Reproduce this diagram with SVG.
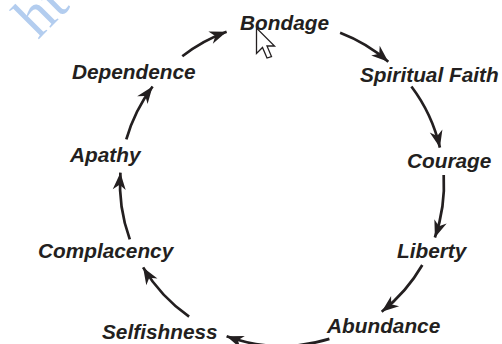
<svg xmlns="http://www.w3.org/2000/svg" width="502" height="344" viewBox="0 0 502 344">
<style>
  .lbl { font-family: "Liberation Sans", Arial, Helvetica, sans-serif; font-size: 20.8px; font-weight: bold; font-style: italic; fill: #231f20; }
  .arc { fill: none; stroke: #231f20; stroke-width: 2.7; marker-end: url(#ah); }
  .wm { font-family: "Liberation Serif", "Times New Roman", serif; font-size: 60px; fill: #b3cdef; }
</style>
<defs>
  <marker id="ah" markerUnits="userSpaceOnUse" viewBox="-18 -8 20 16" markerWidth="20" markerHeight="16" refX="0" refY="0" orient="auto">
    <path d="M0,0 L-17,-6.5 L-12,0 L-17,6.5 Z" fill="#231f20"/>
  </marker>
</defs>
<rect width="502" height="344" fill="#ffffff"/>
<g id="watermark">
  <text class="wm" transform="translate(38,40) rotate(-45)">ht</text>
</g>
<g id="connectors">
  <path class="arc" d="M182.3,56.3 A162,162 0 0 1 226.6,31.8"/>
  <path class="arc" d="M340.1,32.8 A162,162 0 0 1 388.3,61.7"/>
  <path class="arc" d="M411.4,86.5 A162,162 0 0 1 439.9,147.6"/>
  <path class="arc" d="M443.7,175 A162,162 0 0 1 434.9,237.5"/>
  <path class="arc" d="M422.3,265 A162,162 0 0 1 381.7,311.7"/>
  <path class="arc" d="M329.4,338.9 A162,162 0 0 1 226.6,336.2"/>
  <path class="arc" d="M189.1,316.7 A162,162 0 0 1 143.1,267.4"/>
  <path class="arc" d="M129.8,239.4 A162,162 0 0 1 120.4,172.7"/>
  <path class="arc" d="M126.3,139.4 A162,162 0 0 1 152.6,86.5"/>
</g>
<g id="bondage"><text class="lbl" x="240" y="30">Bondage</text></g>
<g id="spiritual-faith"><text class="lbl" x="360" y="82">Spiritual Faith</text></g>
<g id="courage"><text class="lbl" x="407" y="168">Courage</text></g>
<g id="liberty"><text class="lbl" x="397" y="258">Liberty</text></g>
<g id="abundance"><text class="lbl" x="327" y="333">Abundance</text></g>
<g id="selfishness"><text class="lbl" x="102" y="339">Selfishness</text></g>
<g id="complacency"><text class="lbl" x="38" y="258">Complacency</text></g>
<g id="apathy"><text class="lbl" x="70" y="162">Apathy</text></g>
<g id="dependence"><text class="lbl" x="72" y="79">Dependence</text></g>
<g id="cursor">
  <path d="M0,0 L0,25.5 L6,19.5 L10.5,30 L15,28.5 L10.5,18 L18,18 Z" transform="translate(256.5,28)" fill="#ffffff" stroke="#231f20" stroke-width="1.3" stroke-linejoin="miter"/>
</g>
</svg>
